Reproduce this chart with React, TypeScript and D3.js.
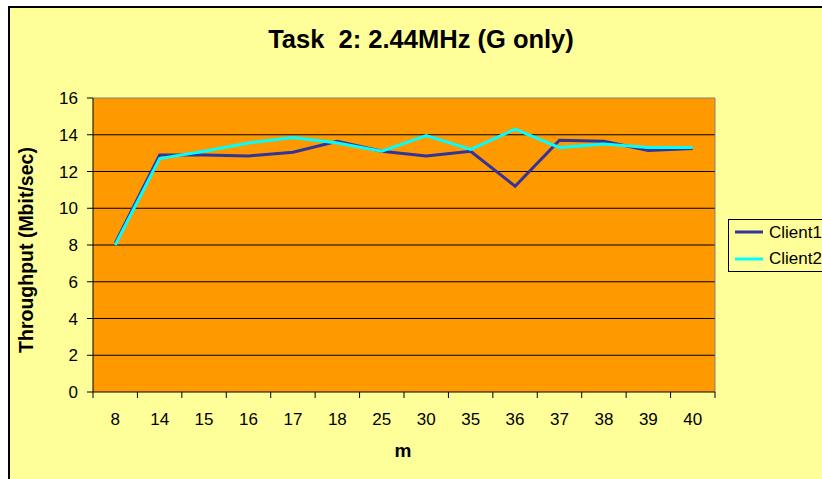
import React from "react";
import * as d3 from "d3";

const categories = ["8", "14", "15", "16", "17", "18", "25", "30", "35", "36", "37", "38", "39", "40"];
const client1 = [8.1, 12.9, 12.9, 12.85, 13.05, 13.65, 13.1, 12.85, 13.1, 11.2, 13.7, 13.65, 13.15, 13.25];
const client2 = [8.0, 12.7, 13.1, 13.55, 13.85, 13.55, 13.1, 13.95, 13.2, 14.3, 13.3, 13.5, 13.3, 13.3];
const yTicks = [0, 2, 4, 6, 8, 10, 12, 14, 16];
const seriesNames = ["Client1", "Client2"];
const seriesColors = ["#333399", "#00FFFF"];

export default function App() {
  const W = 822, H = 479;
  const left = 93, right = 715, top = 98, bottom = 392;
  const x = d3.scaleBand<string>().domain(categories).range([left, right]).padding(0);
  const y = d3.scaleLinear().domain([0, 16]).range([bottom, top]);
  const line = d3.line<number>()
    .x((_, i) => (x(categories[i]) as number) + x.bandwidth() / 2)
    .y((d) => y(d));
  const series = [client1, client2];
  const font = "Arial, 'Liberation Sans', sans-serif";
  return (
    <svg width={W} height={H} style={{ position: "absolute", left: 0, top: 0 }} fontFamily={font}>
      <rect x={0} y={0} width={W} height={H} fill="#ffffff" />
      <rect x={9} y={7} width={W + 20} height={H + 20} fill="#FFFF99" stroke="#000" strokeWidth={2} />
      <text x={421} y={48} textAnchor="middle" fontSize={25.5} fontWeight="bold" fill="#000" style={{ whiteSpace: "pre" }}>Task  2: 2.44MHz (G only)</text>
      <rect x={left} y={top} width={right - left} height={bottom - top} fill="#FF9900" />
      {yTicks.map((t) => (
        <g key={t}>
          {t > 0 && t < 16 && <line x1={left} x2={right} y1={y(t)} y2={y(t)} stroke="#000" strokeWidth={1} />}
          <line x1={left - 6} x2={left} y1={y(t)} y2={y(t)} stroke="#000" strokeWidth={1} />
          <text x={left - 15} y={y(t) + 6} textAnchor="end" fontSize={17} fill="#000">{t}</text>
        </g>
      ))}
      <line x1={left} x2={right} y1={top} y2={top} stroke="#808080" strokeWidth={1} />
      <line x1={right} x2={right} y1={top} y2={bottom} stroke="#808080" strokeWidth={1} />
      <line x1={left} x2={left} y1={top} y2={bottom + 6} stroke="#000" strokeWidth={1} />
      <line x1={left} x2={right} y1={bottom} y2={bottom} stroke="#000" strokeWidth={1} />
      {categories.map((c) => (
        <g key={c}>
          <line x1={(x(c) as number) + x.bandwidth()} x2={(x(c) as number) + x.bandwidth()} y1={bottom} y2={bottom + 6} stroke="#000" strokeWidth={1} />
          <text x={(x(c) as number) + x.bandwidth() / 2} y={425} textAnchor="middle" fontSize={17} fill="#000">{c}</text>
        </g>
      ))}
      {series.map((s, i) => (
        <path key={i} d={line(s) as string} fill="none" stroke={seriesColors[i]} strokeWidth={3} strokeLinejoin="miter" />
      ))}
      <text x={403} y={457} textAnchor="middle" fontSize={19} fontWeight="bold" fill="#000">m</text>
      <text transform="translate(33,250) rotate(-90)" textAnchor="middle" fontSize={19.5} fontWeight="bold" fill="#000">Throughput (Mbit/sec)</text>
      <rect x={728.5} y={219.5} width={120} height={52} fill="#FFFF99" stroke="#000" strokeWidth={1} />
      {seriesNames.map((n, i) => (
        <g key={n}>
          <line x1={735} x2={763} y1={232 + i * 27} y2={232 + i * 27} stroke={seriesColors[i]} strokeWidth={3} />
          <text x={769} y={238 + i * 26} fontSize={17} fill="#000">{n}</text>
        </g>
      ))}
    </svg>
  );
}
